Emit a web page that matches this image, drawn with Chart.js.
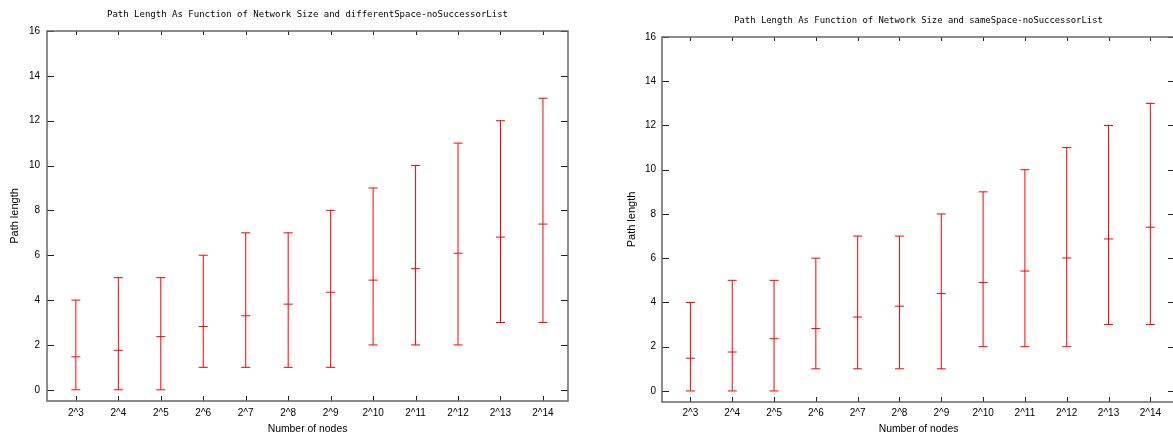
<!DOCTYPE html>
<html>
<head>
<meta charset="utf-8">
<title>Path length vs network size</title>
<script src="https://cdn.jsdelivr.net/npm/chart.js@4.4.1/dist/chart.umd.min.js"></script>
<style>
  html, body { margin: 0; padding: 0; background: #fff; overflow: hidden; }
  body { width: 1173px; height: 434px; position: relative; }
  canvas { position: absolute; top: 0; }
  #leftChart { left: 0; }
  #rightChart { left: 615px; }
</style>
</head>
<body>
<canvas id="leftChart" width="600" height="434"></canvas>
<canvas id="rightChart" width="560" height="434"></canvas>
<script>
// network size exponents (2^n nodes) and their tick labels
const exponents = [3, 4, 5, 6, 7, 8, 9, 10, 11, 12, 13, 14];
const xLabels = exponents.map(e => '2^' + e);
const yTicks = [0, 2, 4, 6, 8, 10, 12, 14, 16];

// shortest / longest path seen for each size (same in both runs)
const pathMin = [0, 0, 0, 1, 1, 1, 1, 2, 2, 2, 3, 3];
const pathMax = [4, 5, 5, 6, 7, 7, 8, 9, 10, 11, 12, 13];

// average path length
const meanDifferentSpace = [1.47, 1.76, 2.37, 2.82, 3.30, 3.82, 4.35, 4.89, 5.40, 6.09, 6.81, 7.39];
const meanSameSpace = [1.48, 1.76, 2.36, 2.82, 3.34, 3.83, 4.40, 4.90, 5.42, 6.01, 6.87, 7.40];

const RED = '#ff0000';

// draws the boxed frame with inward tick marks on all four sides
const frameTicks = {
    id: 'frameTicks',
    afterDatasetsDraw(chart) {
        const { ctx, chartArea: a, scales: { x, y } } = chart;
        ctx.save();
        ctx.lineWidth = 1;
        ctx.strokeStyle = '#222';
        ctx.beginPath();
        x.ticks.forEach(t => {
            const px = Math.round(x.getPixelForValue(t.value)) + 0.5;
            ctx.moveTo(px, a.bottom); ctx.lineTo(px, a.bottom - 5);
            ctx.moveTo(px, a.top); ctx.lineTo(px, a.top + 4);
        });
        y.ticks.forEach(t => {
            const py = Math.round(y.getPixelForValue(t.value)) + 0.5;
            ctx.moveTo(a.left, py); ctx.lineTo(a.left + 7, py);
            ctx.moveTo(a.right, py); ctx.lineTo(a.right - 7, py);
        });
        ctx.stroke();
        ctx.strokeStyle = '#666';
        ctx.lineWidth = 1.5;
        ctx.strokeRect(a.left, a.top, a.right - a.left, a.bottom - a.top);
        ctx.restore();
    }
};

function makeChart(id, title, means, s) {
    // vertical whisker from min to max, broken between sizes
    const whiskers = [];
    exponents.forEach((e, i) => {
        whiskers.push({ x: e, y: pathMin[i] }, { x: e, y: pathMax[i] }, { x: e, y: null });
    });
    const caps = [];
    exponents.forEach((e, i) => {
        caps.push({ x: e, y: pathMin[i] }, { x: e, y: pathMax[i] }, { x: e, y: means[i] });
    });

    return new Chart(document.getElementById(id), {
        type: 'scatter',
        data: {
            datasets: [{
                data: whiskers,
                showLine: true,
                spanGaps: false,
                borderColor: RED,
                borderWidth: 1,
                pointRadius: 0
            }, {
                data: caps,
                pointStyle: 'line',
                pointRadius: 4.5,
                pointBorderColor: RED,
                pointBorderWidth: 1,
                pointHoverRadius: 4.5
            }]
        },
        options: {
            responsive: false,
            animation: false,
            events: [],
            layout: { autoPadding: false, padding: { left: 0, right: s.padRight, top: 0, bottom: 0 } },
            plugins: {
                legend: { display: false },
                tooltip: { enabled: false },
                title: {
                    display: true,
                    text: title,
                    fullSize: false,
                    color: '#000',
                    font: { family: 'DejaVu Sans Mono', size: s.titleSize, weight: 'normal', lineHeight: 1 },
                    padding: { top: s.titleTop, bottom: s.titleBottom }
                }
            },
            scales: {
                x: {
                    type: 'linear',
                    min: 2.32,
                    max: 14.59,
                    grid: { display: false, drawTicks: false },
                    border: { display: false },
                    afterBuildTicks: sc => { sc.ticks = exponents.map(v => ({ value: v })); },
                    afterFit: sc => {
                        sc.height = s.xHeight;
                        sc.paddingLeft = 0;
                        sc.paddingRight = 0;
                    },
                    ticks: {
                        padding: s.xTickPad,
                        color: '#000',
                        maxRotation: 0,
                        font: { family: 'Liberation Sans', size: 10 },
                        callback: (v, i) => xLabels[i]
                    },
                    title: {
                        display: true,
                        text: 'Number of nodes',
                        color: '#000',
                        font: { family: 'Liberation Sans', size: 10.4, lineHeight: 1 },
                        padding: { top: 0, bottom: s.xTitlePad }
                    }
                },
                y: {
                    min: -0.5,
                    max: 16,
                    grid: { display: false, drawTicks: false },
                    border: { display: false },
                    afterBuildTicks: sc => { sc.ticks = yTicks.map(v => ({ value: v })); },
                    afterFit: sc => { sc.width = 47; },
                    ticks: {
                        padding: s.yTickPad,
                        color: '#000',
                        font: { family: 'Liberation Sans', size: 10 }
                    },
                    title: {
                        display: true,
                        text: 'Path length',
                        color: '#000',
                        font: { family: 'Liberation Sans', size: 11, lineHeight: 1 },
                        padding: { top: s.yTitlePad, bottom: 0 }
                    }
                }
            }
        },
        plugins: [frameTicks]
    });
}

makeChart('leftChart', 'Path Length As Function of Network Size and differentSpace-noSuccessorList',
    meanDifferentSpace,
    { padRight: 32, titleSize: 9, titleTop: 10, titleBottom: 12, xHeight: 33, xTickPad: 6, xTitlePad: 0, yTickPad: 7, yTitlePad: 9.5 });

makeChart('rightChart', 'Path Length As Function of Network Size and sameSpace-noSuccessorList',
    meanSameSpace,
    { padRight: 0, titleSize: 8.9, titleTop: 16.5, titleBottom: 11.6, xHeight: 32, xTickPad: 5, xTitlePad: 0, yTickPad: 6, yTitlePad: 11.5 });
</script>
</body>
</html>
